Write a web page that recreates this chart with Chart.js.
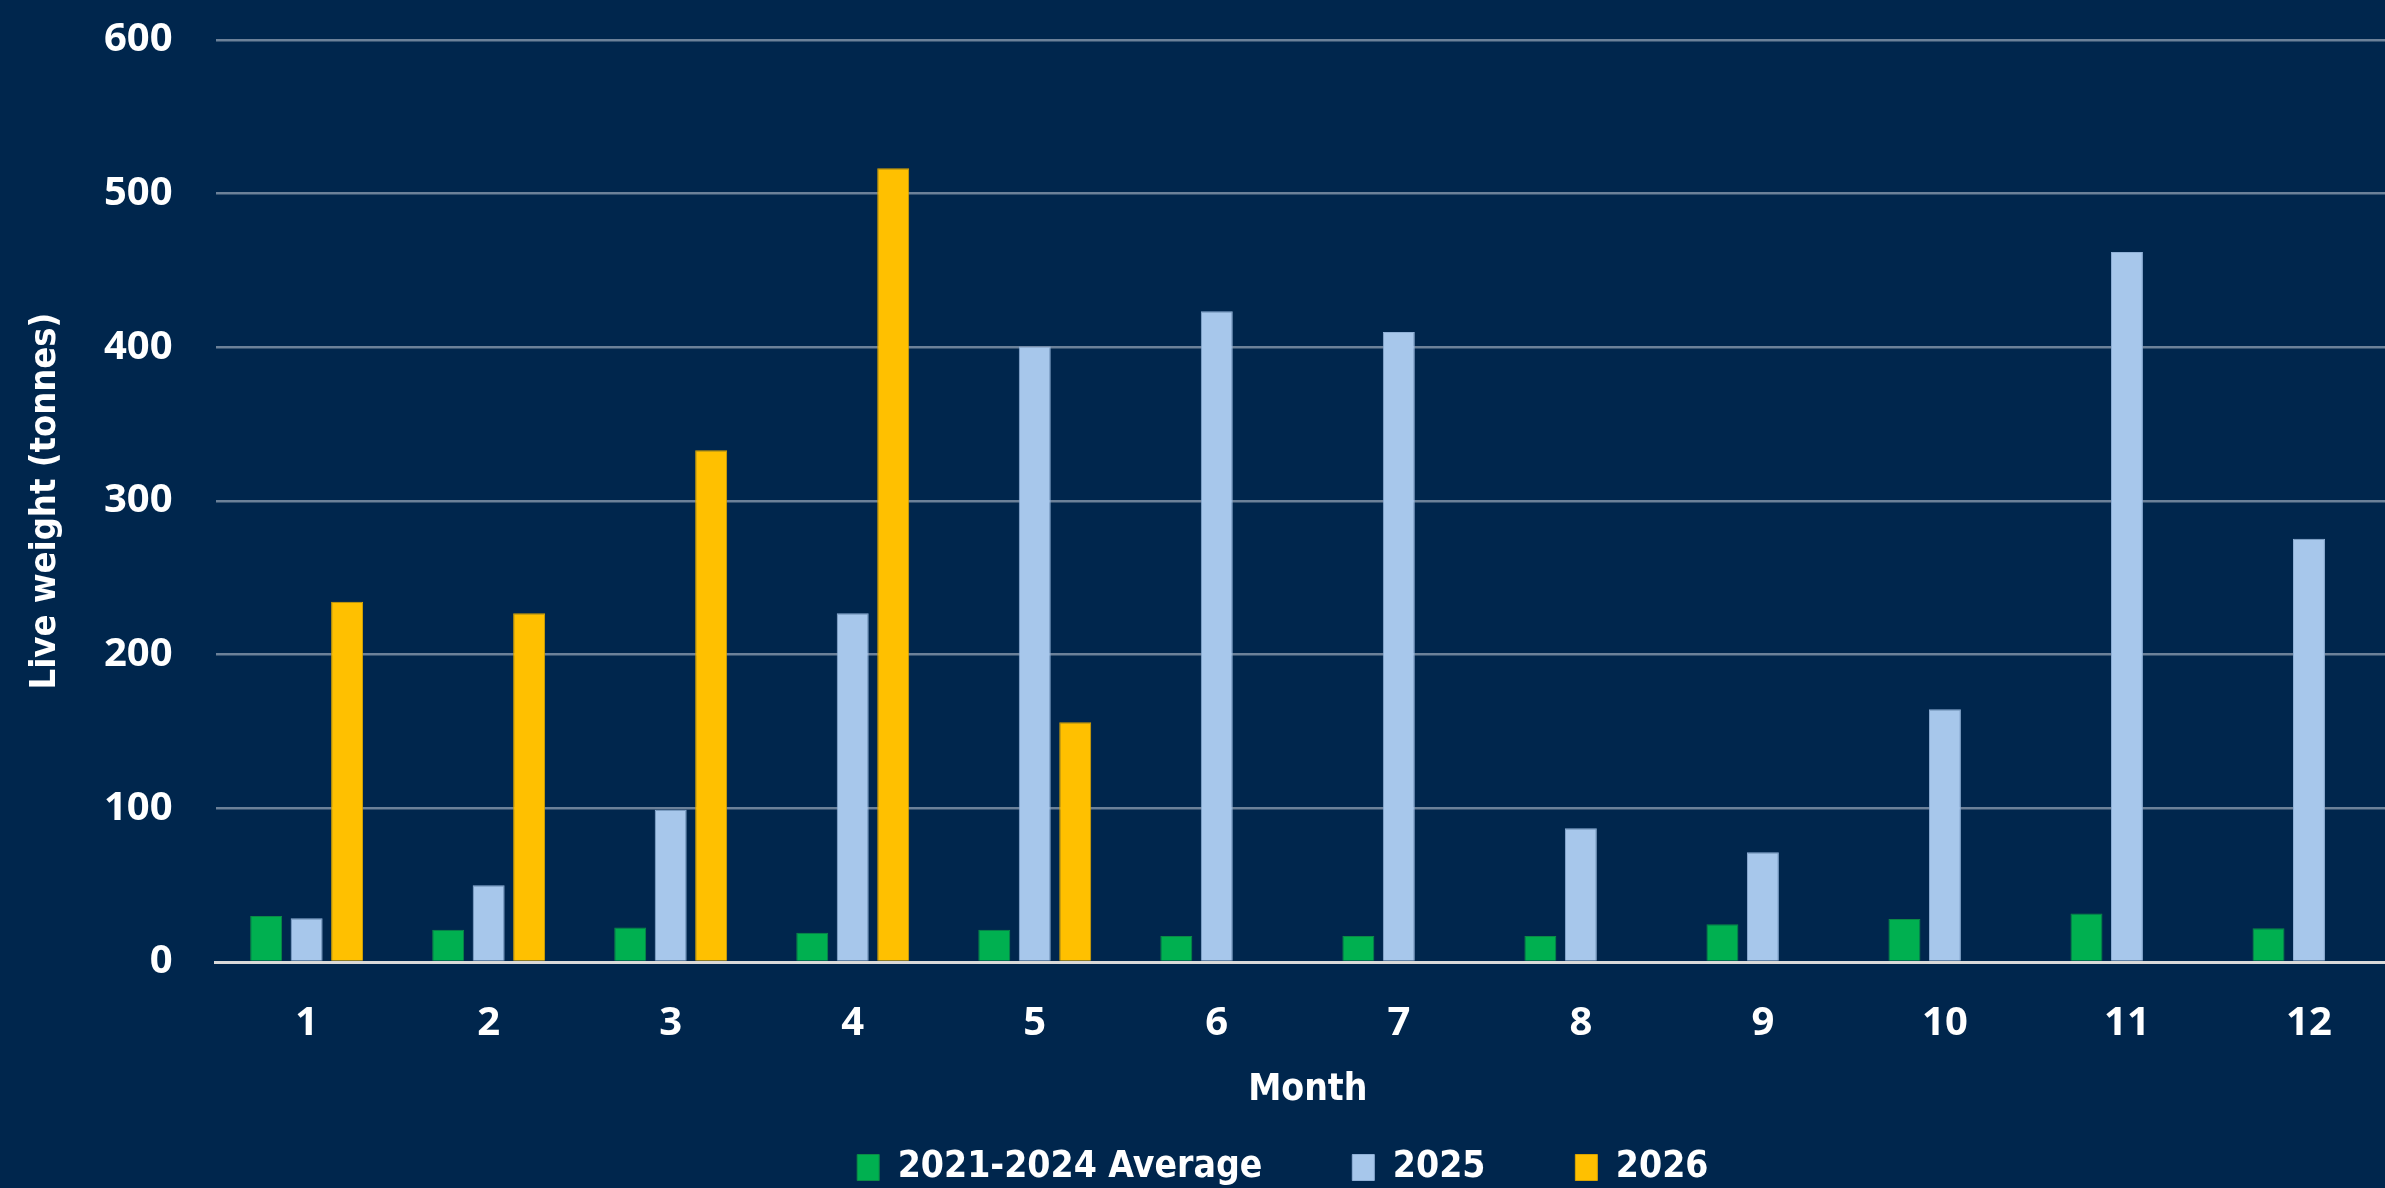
<!DOCTYPE html>
<html>
<head>
<meta charset="utf-8">
<title>Live weight by month</title>
<script src="https://cdn.jsdelivr.net/npm/chart.js@4/dist/chart.umd.min.js"></script>
<style>
    html, body {
        margin: 0;
        padding: 0;
        background: #00264d;
        overflow: hidden;
        width: 2385px;
        height: 1188px;
    }
    canvas {
        display: block;
    }
</style>
</head>
<body>
<canvas id="liveWeightChart" width="2400" height="1196"></canvas>
<script>
// Months on the x axis
const months = ['1', '2', '3', '4', '5', '6', '7', '8', '9', '10', '11', '12'];

// Live weight (tonnes)
const average2021to2024 = [30, 21, 22.5, 19, 21, 17, 17, 17, 24.5, 28, 31.5, 22];
const values2025 = [28.5, 50, 99, 227, 400.5, 423.5, 410, 87, 71.5, 164.5, 462, 275.5];
const values2026 = [234.5, 227, 333, 516.5, 156, null, null, null, null, null, null, null];

const seriesNames = ['2021-2024 Average', '2025', '2026'];

// y axis ticks
const yMin = 0;
const yMax = 600;
const yStep = 100;

const tickFont = { family: "'Open Sans', 'DejaVu Sans', sans-serif", size: 40, weight: 'bold', lineHeight: 1 };
const labelFamily = "'DejaVu Sans Condensed', 'Liberation Sans Narrow', 'DejaVu Sans', sans-serif";

document.addEventListener('DOMContentLoaded', function() {
    initLiveWeightChart();
});

// legend entries with a bit of extra room after the text (wide gaps like the original)
function spacedLegendLabels(chart) {
    const items = Chart.defaults.plugins.legend.labels.generateLabels(chart);
    items.forEach(item => {
        item.text = item.text + '\u2002\u2002\u2002';
    });
    return items;
}

function initLiveWeightChart() {
    const ctx = document.getElementById('liveWeightChart').getContext('2d');

    new Chart(ctx, {
        type: 'bar',
        data: {
            labels: months,
            datasets: [{
                label: seriesNames[0],
                data: average2021to2024,
                backgroundColor: '#00b050',
                borderColor: '#0c8a46',
                borderWidth: 1
            }, {
                label: seriesNames[1],
                data: values2025,
                backgroundColor: '#a7c7eb',
                borderColor: '#8fb0d6',
                borderWidth: 1
            }, {
                label: seriesNames[2],
                data: values2026,
                backgroundColor: '#ffc000',
                borderColor: '#d9a400',
                borderWidth: 1
            }]
        },
        options: {
            responsive: false,
            animation: false,
            categoryPercentage: 0.667,
            barPercentage: 0.79,
            layout: {
                padding: { top: 40, right: 0, bottom: 0, left: 0 }
            },
            plugins: {
                tooltip: { enabled: false },
                legend: {
                    position: 'bottom',
                    fullSize: false,
                    labels: {
                        color: '#ffffff',
                        font: { family: labelFamily, size: 37, weight: 'bold' },
                        boxWidth: 22,
                        boxHeight: 26,
                        padding: 40,
                        generateLabels: spacedLegendLabels
                    }
                }
            },
            scales: {
                x: {
                    grid: {
                        display: false,
                        drawTicks: true,
                        tickLength: 42
                    },
                    border: { display: true, color: '#d9d9d9', width: 3 },
                    ticks: {
                        color: '#ffffff',
                        font: tickFont,
                        padding: 0
                    },
                    title: {
                        display: true,
                        text: 'Month',
                        color: '#ffffff',
                        font: { family: labelFamily, size: 37, weight: 'bold', lineHeight: 1 },
                        padding: { top: 28, bottom: 0 }
                    }
                },
                y: {
                    min: yMin,
                    max: yMax,
                    border: { display: false },
                    grid: {
                        drawTicks: true,
                        tickLength: 43,
                        tickColor: 'transparent',
                        lineWidth: 2.5,
                        color: function(context) {
                            return context.tick && context.tick.value === 0 ? '#d9d9d9' : 'rgba(180, 190, 205, 0.6)';
                        }
                    },
                    ticks: {
                        stepSize: yStep,
                        color: '#ffffff',
                        font: tickFont,
                        padding: 0
                    },
                    title: {
                        display: true,
                        text: 'Live weight (tonnes)',
                        color: '#ffffff',
                        font: { family: labelFamily, size: 36, weight: 'bold', lineHeight: 1 },
                        padding: { top: 28, bottom: 40 }
                    }
                }
            }
        }
    });
}
</script>
</body>
</html>
